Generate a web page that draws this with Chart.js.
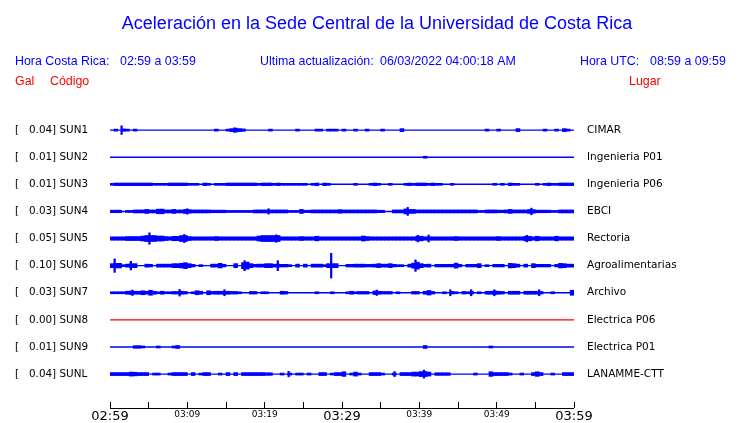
<!DOCTYPE html>
<html>
<head>
<meta charset="utf-8">
<script src="https://cdn.jsdelivr.net/npm/chart.js@4.4.1/dist/chart.umd.min.js"></script>
<style>
  html, body { margin: 0; padding: 0; background: #fff; }
  #wrap { width: 740px; height: 423px; }
</style>
</head>
<body>
<div id="wrap"><canvas id="sismo" width="740" height="423"></canvas></div>
<script>
const codes = ["SUN1", "SUN2", "SUN3", "SUN4", "SUN5", "SUN6", "SUN7", "SUN8", "SUN9", "SUNL"];
const gal = [0.04, 0.01, 0.01, 0.03, 0.05, 0.10, 0.03, 0.00, 0.01, 0.04];
const places = [
  "CIMAR", "Ingenieria P01", "Ingenieria P06", "EBCI", "Rectoria",
  "Agroalimentarias", "Archivo", "Electrica P06", "Electrica P01", "LANAMME-CTT",
];

const startMinute = 2 * 60 + 59; // 02:59 hora Costa Rica
const spanMinutes = 60;
const binMinutes = 0.5;
const ampPerTrace = 27; // amplitude units between two traces

// envelope (half height) of each trace, one value per half minute
const sun1 = [
  0,1,0,1.2,1,0,1,0,0,0, 0,0,0,0,0,0,0,0,0,0, 0,0,0,0,0,0,0,1,0,0,
  1,1.5,2,1.5,1.2,0,0,0,0,0, 0,1,0,0,0,0,0,0,1,0, 0,0,0,1,1,0,1,1,1,0,
  1,0,0,1,0,0,1,0,0,0, 1,0,0,0,0,1.5,0,0,0,0, 0,0,0,0,0,0,0,0,0,0,
  0,0,0,0,0,0,0,1,0,0, 1,0,0,0,0,1.5,0,0,0,0, 0,0,1,0,0,1,0,1.5,1,0,
];
const sun2 = [
  0,0,0,0,0,0,0,0,0,0, 0,0,0,0,0,0,0,0,0,0, 0,0,0,0,0,0,0,0,0,0,
  0,0,0,0,0,0,0,0,0,0, 0,0,0,0,0,0,0,0,0,0, 0,0,0,0,0,0,0,0,0,0,
  0,0,0,0,0,0,0,0,0,0, 0,0,0,0,0,0,0,0,0,0, 0,1,0,0,0,0,0,0,0,0,
  0,0,0,0,0,0,0,0,0,0, 0,0,0,0,0,0,0,0,0,0, 0,0,0,0,0,0,0,0,0,0,
];
const sun3 = [
  1,1.3,1.3,1.3,1.3,1.3,1.3,1.3,1.3,1.3, 1.3,1,1,1,1,1.3,1.3,1.3,1.3,1.3, 1,1,1,0,1.3,1,0,1,1,1,
  1.3,1.3,1.3,1.3,1.3,1.3,1.3,1.3,1,1.3, 1.3,1.3,1,1.3,1,1,1,1,1,1, 1,0,1,1.3,0,1.3,1,0,0,0,
  0,0,0,1,0,0,0,1,1.3,1, 0,0,1,0,0,0,1,1.3,1,1.3, 1.3,1.3,1,1.3,1,1,0,0,1,0,
  0,0,0,0,0,0,0,0,0,1, 0,1,0,1.3,1,1,0,0,0,0, 1,0,1,1.3,1,1,1.3,1.3,1.3,1.3,
];
const sun4 = [
  1.2,1.3,1.3,0,1,1,1.5,1.5,1.5,2, 1.5,1.5,2.3,2.3,1.5,1.5,2,1.5,1.5,2, 1.8,1.5,1.5,1.5,1.5,1.5,1.3,1.3,1.3,1.3,
  1,1,1,1,1,1,1,1.5,1.5,1.5, 1.5,1.5,1.5,1.5,1.5,1.5,1,1,1,2, 1.2,1.2,1.5,1.5,1.5,1.5,1.5,1.5,1.5,1.8,
  1.5,1.5,1.5,1.5,1.5,1.5,1.5,1.5,1.5,1.2, 1.2,0,0,1.5,1.5,1.5,2.5,2,2,1.5, 1.5,1.5,1.5,1.5,1.5,1.5,1.5,1.5,1.5,1.5,
  1.5,1.5,1.5,1.5,1.5,1,1,1.5,1.5,1.5, 1.3,1.3,1.5,2,1.5,1.5,1.5,1.5,2,1.8, 1.3,1.3,1.3,1.3,1,1,1.5,1.5,1.5,1.5,
];
const sun5 = [
  1.7,1.7,1.7,1.7,2,2,2,2,2.5,3, 3,3,2.5,2.5,2,1.7,2.2,2.2,3,3, 2,1.7,1.7,1.7,1.7,1.7,1.7,2,1.7,1.7,
  1.7,1.7,1.7,1.7,1.7,1.7,1.7,1.7,2.5,3, 3,3,3,3,1.7,1.7,1.7,1.7,1.7,2, 1.7,1.7,1.7,2.3,1.7,1.7,1.7,1.7,1.7,1.7,
  1.7,1.7,1.7,1.7,1.7,2.5,2,1.7,1.7,1.7, 1.7,1.7,1.7,1.7,1.7,1.7,1.7,1.7,1.7,2.3, 2.3,1.7,1.7,1.7,1.7,1.7,1.7,1.7,1.7,2,
  1.7,1.7,1.7,1.7,1.7,1.7,1.7,1.7,1.7,1.7, 2,1.7,1.7,1.7,1.7,1.7,1.7,2.3,2.3,1.7, 2.3,1.7,1.7,1.7,1.7,2.3,1.7,1.7,1.7,1.7,
];
const sun6 = [
  2,2.3,2.3,1,1.5,2,2,0,0,1.5, 1.3,0,1.5,1.5,1.5,1.5,2,2,2.3,3, 2,1.3,0,1,0,0,1.5,1.5,2.3,1.3,
  0,0,2,0,3,3.5,2,1.3,1.5,1.5, 2,2,1.5,1.5,1.3,1.3,1,0,1.5,0, 1.5,0,1.5,1.5,1.5,1,2,2,2,0,
  0,1.3,1.3,1.5,1.5,1.5,1.3,1.3,1.5,2, 1.5,1.5,2,1.3,1,1,0,1.5,2.5,3.5, 2,1.3,1.5,0,1.3,1.3,1.3,1.3,1.3,2.5,
  1.3,0,1.3,1.3,1.3,2,0,1,0,1.3, 1.3,1.3,0,2.3,2,1.5,0,1.5,0,2, 1.3,1.3,1.3,1.3,0,1.3,2.3,2,1.5,1.5,
];
const sun7 = [
  1,1,1,1,1.5,1.8,1.5,1.5,2,1.5, 2.5,1.5,1,1.5,1,1,1.3,1.3,1.5,1.3, 0,1,2,1.5,0,2,1.3,1.5,1.5,1.5,
  1.5,1.3,1.3,1,0,0,1.3,1.3,0,1, 1,0,0,0,1.5,1.3,0,0,0,0, 0,0,0,1,0,0,0,1,0,0,
  0,1,1.5,1,1.3,1.3,1.3,0,1.8,1.5, 1.3,1.3,1.3,0,1,0,0,0,1.3,1.3, 0,1.5,2.3,1.3,0,0,1,0,1.3,1,
  0,1.3,1,1.3,0,1,0,1.5,1.5,1.8, 1.5,1.3,0,1.5,1.5,1.5,0,1.5,1.5,1.5, 1.5,1.3,0,0,1,0,0,0,0,2.5,
];
const sun8 = [
  0,0,0,0,0,0,0,0,0,0, 0,0,0,0,0,0,0,0,0,0, 0,0,0,0,0,0,0,0,0,0,
  0,0,0,0,0,0,0,0,0,0, 0,0,0,0,0,0,0,0,0,0, 0,0,0,0,0,0,0,0,0,0,
  0,0,0,0,0,0,0,0,0,0, 0,0,0,0,0,0,0,0,0,0, 0,0,0,0,0,0,0,0,0,0,
  0,0,0,0,0,0,0,0,0,0, 0,0,0,0,0,0,0,0,0,0, 0,0,0,0,0,0,0,0,0,0,
];
const sun9 = [
  0,0,0,0,0,0,1.3,1.3,1,0, 0,0,1,0,0,0,1,1.5,0,0, 0,0,0,0,0,0,0,0,0,0,
  0,0,0,0,0,0,0,0,0,0, 0,0,0,0,0,0,0,0,0,0, 0,0,0,0,0,0,0,0,0,0,
  0,0,0,0,0,0,0,0,0,0, 0,0,0,0,0,0,0,0,0,0, 0,1.5,0,0,0,0,0,0,0,0,
  0,0,0,0,0,0,0,0,1,0, 0,0,0,0,0,0,0,0,0,0, 0,0,0,0,0,0,0,0,0,0,
];
const sunl = [
  1.5,1.5,1.5,1.5,1.5,2,1.8,1.5,1.5,1.5, 0,1,1,0,0,1,1.5,1.5,1.5,1.5, 0,1.5,0,1,1.5,1.5,0,0,1,0,
  1.5,0,1.5,0,1.5,1.5,1.5,1.5,1.5,1.5, 1.3,1.3,0,0,1,0,1,0,1,1, 0,1,0,0,1.5,1.5,0,1,1.5,1.5,
  2.3,0,1,2,1,0,0,1.5,1.5,1.5, 1,0,0,1,0,1.5,1.5,1.5,2,2, 2.5,2.5,2,0,1.3,1.3,1.3,1.3,0,0,
  0,0,0,0,1,0,0,0,2.3,1.5, 1.5,1.5,1.5,1,0,0,1,0,0,1.5, 2.3,1.5,0,0,1,0,0,1.5,1.5,1.5,
];
const traces = [sun1, sun2, sun3, sun4, sun5, sun6, sun7, sun8, sun9, sunl];

// single sharp peaks: [minute, half height]
const peaks = [
  [[1.5, 4.3], [16.1, 2.2]],
  [],
  [],
  [[10.0, 2.7], [20.5, 2.7], [38.5, 4], [54.5, 3.3]],
  [[5.1, 5.7], [9.6, 4], [21.5, 3.7], [39.8, 3.3], [41.2, 3.5], [53.9, 3.3]],
  [[0.6, 6.7], [2.7, 4.3], [17.4, 5], [21.7, 5], [28.6, 12.3], [39.5, 5.7]],
  [[2.9, 2.7], [9.0, 3.3], [14.8, 3], [34.5, 2.7], [44.0, 3], [46.7, 3], [49.7, 3], [55.5, 3]],
  [],
  [],
  [[23.1, 2.7], [36.8, 2.5], [40.6, 4]],
];

const BLUE = "#0000ff";
const RED = "#ff0000";

function hhmm(m) {
  const h = Math.floor(m / 60) % 24;
  const mm = m % 60;
  return String(h).padStart(2, "0") + ":" + String(mm).padStart(2, "0");
}

const span = (y0, a) => [y0 - a / ampPerTrace, y0 + a / ampPerTrace];

// baseline + envelope + peaks per station
const datasets = [];
traces.forEach((amp, t) => {
  const y0 = t + 1;
  const color = gal[t] === 0 ? RED : BLUE;
  datasets.push({
    type: "line",
    data: [{ x: 0, y: y0 }, { x: spanMinutes, y: y0 }],
    borderColor: color,
    borderWidth: 1.4,
    pointRadius: 0,
  });
  const env = [];
  amp.forEach((a, i) => {
    if (a > 0) env.push({ x: (i + 0.5) * binMinutes, y: span(y0, a) });
  });
  datasets.push({
    type: "bar",
    data: env,
    backgroundColor: color,
    borderWidth: 0,
    grouped: false,
    barPercentage: 1,
    categoryPercentage: 1,
  });
  datasets.push({
    type: "bar",
    xAxisID: "xp",
    data: peaks[t].map((p) => ({ x: p[0], y: span(y0, p[1]) })),
    backgroundColor: color,
    borderWidth: 0,
    grouped: false,
    barThickness: 1.6,
  });
});

const traceTicks = (scale) => {
  scale.ticks = codes.map((c, i) => ({ value: i + 1 }));
};

const headerPlugin = {
  id: "header",
  afterDraw(chart) {
    const ctx = chart.ctx;
    ctx.save();
    ctx.fillStyle = BLUE;
    ctx.textAlign = "center";
    ctx.font = "18px 'Liberation Sans'";
    ctx.fillText("Aceleración en la Sede Central de la Universidad de Costa Rica", 377, 29);
    ctx.textAlign = "left";
    ctx.font = "12.4px 'Liberation Sans'";
    ctx.fillText("Hora Costa Rica:", 15, 65);
    ctx.fillText(hhmm(startMinute) + " a " + hhmm(startMinute + spanMinutes), 120, 65);
    ctx.fillText("Ultima actualización:", 260, 65);
    ctx.fillText("06/03/2022 04:00:18 AM", 380, 65);
    ctx.fillText("Hora UTC:", 580, 65);
    ctx.fillText(hhmm(startMinute + 360) + " a " + hhmm(startMinute + 360 + spanMinutes), 650, 65);
    ctx.fillStyle = RED;
    ctx.fillText("Gal", 15, 85);
    ctx.fillText("Código", 50, 85);
    ctx.fillText("Lugar", 629, 85);
    // time axis line under the tick marks
    const xs = chart.scales.x;
    ctx.strokeStyle = "#000";
    ctx.lineWidth = 1;
    ctx.beginPath();
    ctx.moveTo(xs.left, xs.top + 6.5);
    ctx.lineTo(xs.right, xs.top + 6.5);
    ctx.stroke();
    ctx.restore();
  },
};

new Chart(document.getElementById("sismo"), {
  type: "bar",
  data: { datasets: datasets },
  plugins: [headerPlugin],
  options: {
    responsive: false,
    animation: false,
    layout: { padding: { top: 103, left: 15, right: 0, bottom: 0 } },
    plugins: { legend: { display: false }, tooltip: { enabled: false } },
    scales: {
      x: {
        type: "linear",
        min: 0,
        max: spanMinutes,
        offset: false,
        grid: { offset: false, drawOnChartArea: false, drawTicks: true, tickLength: 6, color: "#000" },
        border: { display: false },
        afterFit: (scale) => { scale.height = 21; },
        ticks: {
          stepSize: 5,
          autoSkip: false,
          maxRotation: 0,
          padding: 1,
          color: "#000",
          callback: (v) => (v % 10 === 0 ? hhmm(startMinute + v) : ""),
          font: (c) => ({
            family: "'DejaVu Sans'",
            size: c.tick && c.tick.value % 30 === 0 ? 13 : 9,
          }),
        },
      },
      xp: {
        type: "linear",
        display: false,
        min: 0,
        max: spanMinutes,
        offset: false,
        grid: { offset: false },
      },
      y: {
        type: "linear",
        position: "left",
        reverse: true,
        min: 0,
        max: 11.03,
        grid: { display: false, drawTicks: false },
        border: { display: false },
        afterBuildTicks: traceTicks,
        afterFit: (scale) => { scale.width = 95; },
        ticks: {
          autoSkip: false,
          crossAlign: "far",
          color: "#000",
          font: { family: "'DejaVu Sans'", size: 10.4 },
          callback: (v) => "[   " + gal[v - 1].toFixed(2) + "] " + codes[v - 1],
        },
      },
      y2: {
        type: "linear",
        position: "right",
        reverse: true,
        min: 0,
        max: 11.03,
        grid: { display: false, drawTicks: false },
        border: { display: false },
        afterBuildTicks: traceTicks,
        afterFit: (scale) => { scale.width = 166; },
        ticks: {
          autoSkip: false,
          crossAlign: "near",
          padding: 13,
          color: "#000",
          font: { family: "'DejaVu Sans'", size: 10.5 },
          callback: (v) => places[v - 1],
        },
      },
    },
  },
});
</script>
</body>
</html>
